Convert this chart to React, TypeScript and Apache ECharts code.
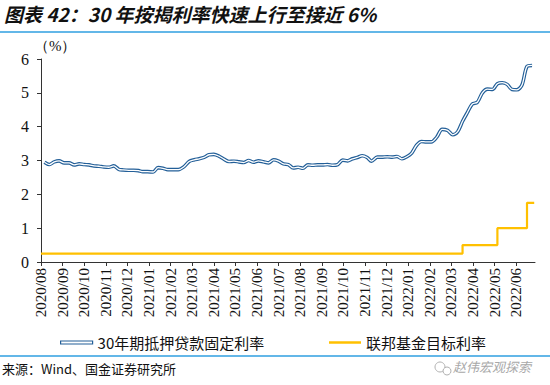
import React, { useEffect, useRef } from "react";
import * as echarts from "echarts";

const monthLabels = [
  "2020/08", "2020/09", "2020/10", "2020/11", "2020/12",
  "2021/01", "2021/02", "2021/03", "2021/04", "2021/05", "2021/06", "2021/07",
  "2021/08", "2021/09", "2021/10", "2021/11", "2021/12",
  "2022/01", "2022/02", "2022/03", "2022/04", "2022/05", "2022/06",
];

const mortgageDates = [
  "2020-08-06", "2020-08-13", "2020-08-20", "2020-08-27", "2020-09-03", "2020-09-10", "2020-09-17", "2020-09-24",
  "2020-10-01", "2020-10-08", "2020-10-15", "2020-10-22", "2020-10-29", "2020-11-05", "2020-11-12", "2020-11-19",
  "2020-11-25", "2020-12-03", "2020-12-10", "2020-12-17", "2020-12-23", "2020-12-30", "2021-01-07", "2021-01-14",
  "2021-01-21", "2021-01-28", "2021-02-04", "2021-02-11", "2021-02-18", "2021-02-25", "2021-03-04", "2021-03-11",
  "2021-03-18", "2021-03-25", "2021-04-01", "2021-04-08", "2021-04-15", "2021-04-22", "2021-04-29", "2021-05-06",
  "2021-05-13", "2021-05-20", "2021-05-27", "2021-06-03", "2021-06-10", "2021-06-17", "2021-06-24", "2021-07-01",
  "2021-07-08", "2021-07-15", "2021-07-22", "2021-07-29", "2021-08-05", "2021-08-12", "2021-08-19", "2021-08-26",
  "2021-09-02", "2021-09-09", "2021-09-16", "2021-09-23", "2021-09-30", "2021-10-07", "2021-10-14", "2021-10-21",
  "2021-10-28", "2021-11-04", "2021-11-10", "2021-11-18", "2021-11-24", "2021-12-02", "2021-12-09", "2021-12-16",
  "2021-12-23", "2021-12-30", "2022-01-06", "2022-01-13", "2022-01-20", "2022-01-27", "2022-02-03", "2022-02-10",
  "2022-02-17", "2022-02-24", "2022-03-03", "2022-03-10", "2022-03-17", "2022-03-24", "2022-03-31", "2022-04-07",
  "2022-04-14", "2022-04-21", "2022-04-28", "2022-05-05", "2022-05-12", "2022-05-19", "2022-05-26", "2022-06-02",
  "2022-06-09", "2022-06-16", "2022-06-23",
];
const mortgageRate = [
  2.95, 2.88, 2.96, 2.99, 2.93, 2.93, 2.87, 2.90,
  2.88, 2.87, 2.84, 2.83, 2.81, 2.80, 2.84, 2.74,
  2.72, 2.71, 2.71, 2.70, 2.67, 2.67, 2.66, 2.79,
  2.77, 2.73, 2.73, 2.73, 2.81, 2.97, 3.02, 3.05,
  3.09, 3.17, 3.18, 3.13, 3.04, 2.97, 2.98, 2.96,
  2.94, 3.00, 2.95, 2.99, 2.96, 2.93, 3.02, 2.98,
  2.90, 2.88, 2.78, 2.80, 2.77, 2.87, 2.86, 2.87,
  2.87, 2.88, 2.86, 2.88, 3.01, 2.99, 3.05, 3.09,
  3.14, 3.09, 2.98, 3.10, 3.10, 3.11, 3.10, 3.12,
  3.05, 3.11, 3.22, 3.45, 3.56, 3.55, 3.55, 3.69,
  3.92, 3.89, 3.76, 3.85, 4.16, 4.42, 4.67, 4.72,
  5.00, 5.11, 5.10, 5.27, 5.30, 5.25, 5.10, 5.09,
  5.23, 5.78, 5.81,
];

const fedDates = ["2020-08-01", "2022-03-17", "2022-05-05", "2022-06-16", "2022-06-26"];
const fedRate = [0.25, 0.5, 1.0, 1.75, 1.75];

function monthPos(d: string): number {
  const [y, m, day] = d.split("-").map(Number);
  const dim = new Date(Date.UTC(y, m, 0)).getUTCDate();
  return (y - 2020) * 12 + (m - 8) + (day - 1) / dim;
}

const BLUE = "#235f98";
const YELLOW = "#ffc000";
const RULE = "#2f9fe0";
const SERIF = "'Liberation Serif', 'Times New Roman', serif";
const CJK = "'Noto Sans CJK SC', sans-serif";

export default function App() {
  const ref = useRef<HTMLDivElement>(null);
  useEffect(() => {
    document.body.style.margin = "0";
    const chart = echarts.init(ref.current!, null, { renderer: "svg" });
    const mData = mortgageDates.map((d, i) => [monthPos(d), mortgageRate[i]]);
    const fData = fedDates.map((d, i) => [monthPos(d), fedRate[i]]);
    chart.setOption({
      animation: false,
      backgroundColor: "#fff",
      grid: { left: 41, right: 15, top: 59, bottom: 123, containLabel: false },
      xAxis: {
        type: "value",
        min: 0,
        max: 22.87,
        interval: 1,
        splitLine: { show: false },
        axisLine: { lineStyle: { color: "#333", width: 1 } },
        axisTick: { show: true, length: 4, lineStyle: { color: "#333" } },
        axisLabel: {
          rotate: 90,
          fontFamily: SERIF,
          fontSize: 15,
          color: "#111",
          margin: 6,
          showMaxLabel: false,
          formatter: (v: number) => monthLabels[Math.round(v)] ?? "",
        },
      },
      yAxis: {
        type: "value",
        min: 0,
        max: 6,
        interval: 1,
        splitLine: { show: false },
        axisLine: { show: true, lineStyle: { color: "#333", width: 1 } },
        axisTick: { show: true, length: 4, lineStyle: { color: "#333" } },
        axisLabel: { fontFamily: SERIF, fontSize: 16, color: "#111", margin: 12 },
      },
      legend: [
        {
          left: 60,
          top: 335,
          padding: 0,
          data: [{ name: "30年期抵押贷款固定利率", icon: "rect" }],
          itemWidth: 32,
          itemHeight: 3,
          itemGap: 4,
          itemStyle: { color: "#fff", borderColor: BLUE, borderWidth: 1.2 },
          textStyle: { fontFamily: CJK, fontSize: 15, color: "#111" },
        },
        {
          left: 329,
          top: 335,
          padding: 0,
          data: [{ name: "联邦基金目标利率", icon: "rect" }],
          itemWidth: 32,
          itemHeight: 2.5,
          itemGap: 4,
          textStyle: { fontFamily: CJK, fontSize: 15, color: "#111" },
        },
      ],
      series: [
        {
          name: "30年期抵押贷款固定利率",
          type: "line",
          data: mData,
          showSymbol: false,
          smooth: 0.3,
          color: BLUE,
          lineStyle: { color: BLUE, width: 3.6 },
          z: 2,
        },
        {
          name: "inner",
          type: "line",
          data: mData,
          showSymbol: false,
          smooth: 0.3,
          silent: true,
          lineStyle: { color: "#ffffff", width: 1.3 },
          z: 3,
        },
        {
          name: "联邦基金目标利率",
          type: "line",
          data: fData,
          step: "end",
          showSymbol: false,
          color: YELLOW,
          lineStyle: { color: YELLOW, width: 2.2 },
          z: 2,
        },
      ],
      graphic: [
        {
          type: "text",
          left: 4,
          top: 4,
          style: {
            text: "图表 42：30 年按揭利率快速上行至接近 6%",
            font: "italic bold 19px 'Noto Sans CJK SC', sans-serif",
            fill: "#111",
          },
        },
        {
          type: "line",
          shape: { x1: 0, y1: 32, x2: 550, y2: 32 },
          style: { stroke: RULE, lineWidth: 1.5 },
        },
        {
          type: "text",
          left: 34,
          top: 38,
          style: { text: "（%）", font: `15px ${SERIF}`, fill: "#111" },
        },
        {
          type: "line",
          shape: { x1: 0, y1: 356, x2: 550, y2: 356 },
          style: { stroke: RULE, lineWidth: 1.5 },
        },
        {
          type: "text",
          left: 2,
          top: 362,
          style: { text: "来源：Wind、国金证券研究所", font: `13px ${CJK}`, fill: "#111" },
        },
        {
          type: "circle",
          shape: { cx: 440, cy: 367, r: 5 },
          style: { fill: "none", stroke: "#b0b0b0", lineWidth: 1 },
        },
        {
          type: "circle",
          shape: { cx: 447, cy: 371, r: 4 },
          style: { fill: "#fff", stroke: "#b0b0b0", lineWidth: 1 },
        },
        {
          type: "text",
          left: 453,
          top: 360,
          style: { text: "赵伟宏观探索", font: `italic 13px ${CJK}`, fill: "#a8a8a8" },
        },
      ],
    });
    return () => chart.dispose();
  }, []);
  return <div ref={ref} style={{ width: 550, height: 385 }} />;
}
